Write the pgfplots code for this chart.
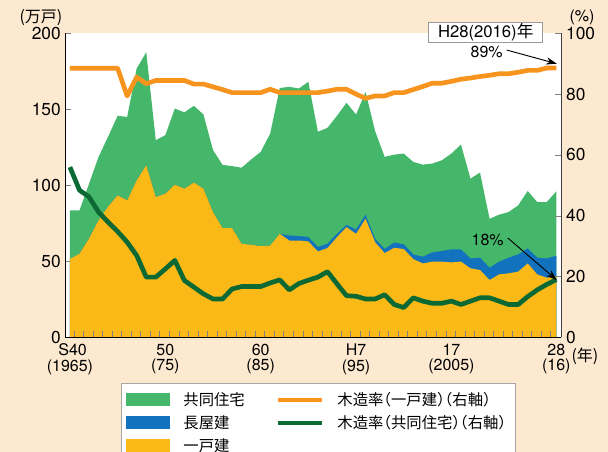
\documentclass[border=0pt]{standalone}
\usepackage{pgfplots}
\pgfplotsset{compat=1.18}
\usepackage{pgfplotstable}
\usepackage{fontspec}
\setmainfont{TeX Gyre Heros}
\newfontfamily\jp{Noto Sans CJK JP}
\newfontfamily\jph[RawFeature=+halt]{Noto Sans CJK JP}
\usetikzlibrary{arrows.meta}

\definecolor{bg}{HTML}{FDE9D0}
\definecolor{gA}{HTML}{45B76A}
\definecolor{bA}{HTML}{1272BE}
\definecolor{yA}{HTML}{FBB917}
\definecolor{oL}{HTML}{F7941E}
\definecolor{dL}{HTML}{0C6934}

\pgfplotstableread{
year total nagaya kodate
1965 83.5 51.6 51.6
1966 83.5 55.0 55.0
1967 101.0 65.0 65.0
1968 118.7 77.0 77.0
1969 132.0 86.0 86.0
1970 145.7 93.4 93.4
1971 145.0 90.1 90.1
1972 176.9 103.3 103.3
1973 187.5 113.2 113.2
1974 129.7 92.3 92.3
1975 133.0 94.5 94.5
1976 150.5 100.4 100.4
1977 148.0 97.8 97.8
1978 152.3 101.8 101.8
1979 146.6 97.8 97.8
1980 123.2 82.4 82.4
1981 113.5 71.8 71.8
1982 112.6 71.9 71.9
1983 111.6 61.5 61.5
1984 117.0 60.9 60.9
1985 122.0 60.0 60.0
1986 134.1 60.4 60.4
1987 164.0 68.1 68.1
1988 164.8 67.0 63.7
1989 163.7 66.6 63.7
1990 168.1 66.0 63.1
1991 135.2 59.4 56.5
1992 137.8 61.6 58.7
1993 145.7 68.1 65.9
1994 154.3 74.0 72.5
1995 146.6 71.0 68.1
1996 161.5 80.7 78.0
1997 135.6 64.8 62.6
1998 118.7 58.2 55.4
1999 120.2 62.4 58.9
2000 120.9 61.2 58.1
2001 115.4 54.6 51.5
2002 113.6 53.0 48.6
2003 114.3 55.9 49.8
2004 116.5 56.8 49.8
2005 120.9 57.9 49.3
2006 126.8 57.9 49.8
2007 104.4 51.9 45.4
2008 108.4 52.4 44.3
2009 78.0 45.8 37.7
2010 80.7 49.8 41.4
2011 82.4 52.4 42.1
2012 86.8 54.6 43.2
2013 96.3 58.5 48.6
2014 89.0 52.4 41.4
2015 89.0 51.9 39.2
2016 96.0 53.7 39.9
}\areatab

\pgfplotstableread{
year kodate kyodo
1965 88.5 56.0
1966 88.5 48.4
1967 88.5 46.2
1968 88.5 41.2
1969 88.5 37.9
1970 88.5 34.8
1971 79.4 31.3
1972 85.6 26.9
1973 83.4 19.8
1974 84.5 19.8
1975 84.5 22.5
1976 84.5 25.3
1977 84.5 18.7
1978 83.3 16.5
1979 83.3 14.3
1980 82.4 12.6
1981 81.5 12.6
1982 80.5 15.9
1983 80.5 16.7
1984 80.5 16.7
1985 80.5 16.7
1986 81.6 17.9
1987 80.5 18.9
1988 80.5 15.6
1989 80.5 17.7
1990 80.5 18.8
1991 80.5 19.8
1992 81.0 21.6
1993 81.6 17.6
1994 81.6 13.7
1995 80.0 13.5
1996 78.6 12.6
1997 79.4 12.6
1998 79.4 14.0
1999 80.5 10.8
2000 80.5 9.8
2001 81.5 13.0
2002 82.5 11.9
2003 83.6 11.2
2004 83.6 11.2
2005 84.2 11.9
2006 84.9 10.8
2007 85.3 11.9
2008 85.8 13.0
2009 86.2 13.0
2010 86.7 11.9
2011 86.7 10.8
2012 87.2 10.8
2013 87.8 13.4
2014 87.8 15.6
2015 88.6 17.4
2016 88.6 19.0
}\woodtab

\pgfplotsset{
  arealeg/.style={legend image code/.code={\draw[##1,draw=none] (0pt,-4.9pt) rectangle (33pt,4.9pt);}},
  lineleg/.style={legend image code/.code={\draw[##1] (0pt,0pt) -- (33pt,0pt);}},
  base/.style={at={(0pt,0pt)}, anchor=south west, scale only axis,
    width=372pt, height=228pt, xmin=1964.53, xmax=2016.54,
    axis line style={-}, tick align=inside, major tick length=4.5pt,
    /pgf/number format/assume math mode=true,
    yticklabel style={font=\fontsize{13}{13}\selectfont}},
}

\begin{document}
\begin{tikzpicture}
\path[use as bounding box, fill=bg] (-49.1pt,-86pt) rectangle (406.9pt,253pt);

\begin{axis}[base, ymin=0, ymax=200, axis y line*=left, axis x line=none,
  ytick={0,50,...,200}, axis background/.style={fill=white}]
\addplot[fill=gA, draw=none] table[x=year,y=total]{\areatab} \closedcycle;
\addplot[fill=bA, draw=none] table[x=year,y=nagaya]{\areatab} \closedcycle;
\addplot[fill=yA, draw=none] table[x=year,y=kodate]{\areatab} \closedcycle;
\end{axis}

\begin{axis}[base, ymin=0, ymax=100, axis y line*=right, axis x line=none,
  ytick={0,20,...,100}, clip=false, y axis line style={black!75}]
\addplot[oL, line width=3.5pt, line join=round] table[x=year,y=kodate]{\woodtab};
\addplot[dL, line width=3.5pt, line join=round] table[x=year,y=kyodo]{\woodtab};
\draw[-{Stealth[length=8pt,width=5.5pt]}, line width=0.7pt] (axis cs:2010.8,94.5) -- (axis cs:2016.05,90);
\node[font=\fontsize{12}{12}\selectfont] at (axis cs:2008.7,93.95) {89\%};
\draw[-{Stealth[length=8pt,width=5.5pt]}, line width=0.7pt] (axis cs:2010.9,32.7) -- (axis cs:2016.05,18.85);
\node[font=\fontsize{12}{12}\selectfont] at (axis cs:2008.8,32) {18\%};
\node[draw=gray!80, fill=white, minimum width=85.5pt, minimum height=14.3pt, inner sep=1pt,
  font=\fontsize{12.5}{12.5}\selectfont] at (axis cs:2008.6,100.3) {H28(2016){\jp 年}};
\end{axis}

\begin{axis}[base, ymin=0, ymax=1, hide y axis, axis x line*=bottom,
  major tick length=0pt, minor tick length=4.5pt,
  xtick={1965,1975,1985,1995,2005,2016},
  xticklabels={\hspace*{4pt}S40\\(1965),50\\(75),60\\(85),H7\\(95),17\\(2005),28\\(16)},
  minor xtick={1965.4,1966.4,...,2015.4},
  xticklabel style={align=center, font=\fontsize{12}{11.5}\selectfont, yshift=-1.5pt},
  legend columns=2, legend cell align=left,
  legend style={at={(0.111,-0.151)}, anchor=north west, draw=gray!70, fill=white,
    font=\jph\fontsize{11.5}{12}\selectfont, inner xsep=4pt, inner ysep=4pt, row sep=1pt,
    nodes={inner ysep=2.5pt, inner xsep=3pt},
    /tikz/every odd column/.append style={column sep=7pt},
    /tikz/every even column/.append style={column sep=20.5pt},
    /tikz/column 3/.append style={column sep=1pt}}]
\addlegendimage{arealeg, fill=gA}
\addlegendentry{共同住宅}
\addlegendimage{lineleg, draw=oL, line width=3pt}
\addlegendentry{木造率（一戸建）（右軸）}
\addlegendimage{arealeg, fill=bA}
\addlegendentry{長屋建}
\addlegendimage{lineleg, draw=dL, line width=3pt}
\addlegendentry{木造率（共同住宅）（右軸）}
\addlegendimage{arealeg, fill=yA}
\addlegendentry{一戸建}
\end{axis}

\node[font=\jp\fontsize{12}{12}\selectfont] at (-18.4pt,240.2pt) {(万戸)};
\node[font=\fontsize{12}{12}\selectfont] at (387.4pt,240.2pt) {(\%)};
\node[font=\jp\fontsize{12}{12}\selectfont] at (389.6pt,-14pt) {(年)};
\end{tikzpicture}
\end{document}
